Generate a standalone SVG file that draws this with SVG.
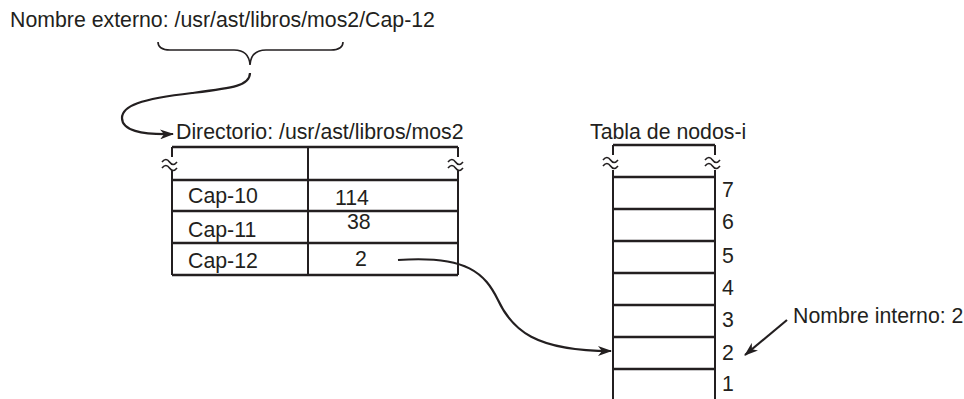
<svg xmlns="http://www.w3.org/2000/svg" width="964" height="399" viewBox="0 0 964 399">
<style>
text{font-family:"Liberation Sans",Arial,sans-serif;font-size:21.3px;fill:#231f20}
.ln{stroke:#231f20;stroke-width:2;fill:none}
.hl{stroke:#231f20;stroke-width:2.6;fill:none}
.tl{stroke:#231f20;stroke-width:1.6;fill:none}
.cv{stroke:#231f20;stroke-width:2.2;fill:none}
</style>
<defs>
<marker id="ah" viewBox="0 0 14 10" refX="13" refY="5" markerWidth="14" markerHeight="10" markerUnits="userSpaceOnUse" orient="auto">
<path d="M0,0 L14,5 L0,10 L4,5 Z" fill="#231f20"/>
</marker>
</defs>
<rect width="964" height="399" fill="#fff"/>

<g id="nombre-externo">
<text x="10" y="27">Nombre externo: /usr/ast/libros/mos2/Cap-12</text>
<path class="tl" d="M158,42 Q158,50 170,50 L234,50 Q249,50 250,65 Q251,50 266,50 L331,50 Q343,50 343,42"/>
</g>

<g id="directorio">
<text x="176" y="139">Directorio: /usr/ast/libros/mos2</text>
<path class="hl" d="M172,147 H458 M172,180 H458 M172,211 H458 M172,243 H458 M172,275 H458"/>
<path class="ln" d="M172,147 V157 M172,171 V275 M458,147 V157 M458,171 V275 M308,147 V275"/>
<path class="tl" d="M162,162 q4,-5 7.5,0 t7.5,0 M162,168 q4,-5 7.5,0 t7.5,0 M448,162 q4,-5 7.5,0 t7.5,0 M448,168 q4,-5 7.5,0 t7.5,0"/>
<text x="188" y="203">Cap-10</text>
<text x="335" y="205">114</text>
<text x="188" y="237">Cap-11</text>
<text x="347" y="229">38</text>
<text x="188" y="268">Cap-12</text>
<text x="355" y="266">2</text>
</g>

<g id="tabla-nodos-i">
<text x="590" y="139">Tabla de nodos-i</text>
<path class="hl" d="M613,145 H715 M613,177 H715 M613,209 H715 M613,241 H715 M613,273 H715 M613,305 H715 M613,337 H715 M613,369 H715"/>
<path class="ln" d="M613,145 V155 M613,170 V399 M715,145 V155 M715,170 V399"/>
<path class="tl" d="M603,160 q4,-5 7.5,0 t7.5,0 M603,166 q4,-5 7.5,0 t7.5,0 M705,160 q4,-5 7.5,0 t7.5,0 M705,166 q4,-5 7.5,0 t7.5,0"/>
<text x="722" y="197">7</text>
<text x="722" y="229">6</text>
<text x="722" y="263">5</text>
<text x="722" y="295">4</text>
<text x="722" y="327">3</text>
<text x="722" y="360">2</text>
<text x="722" y="391">1</text>
</g>

<g id="nombre-interno">
<text x="793" y="323">Nombre interno: 2</text>
</g>

<g id="connectors">
<path class="cv" marker-end="url(#ah)" d="M250,73 C250,86 232,88 192,93 C140,99 122,106 122,118 C122,130 140,135 173,134"/>
<path class="cv" marker-end="url(#ah)" d="M398,260 C468,255 485,274 498,300 C512,330 535,351 611,351"/>
<path class="cv" marker-end="url(#ah)" d="M787,320 L745,355"/>
</g>
</svg>
